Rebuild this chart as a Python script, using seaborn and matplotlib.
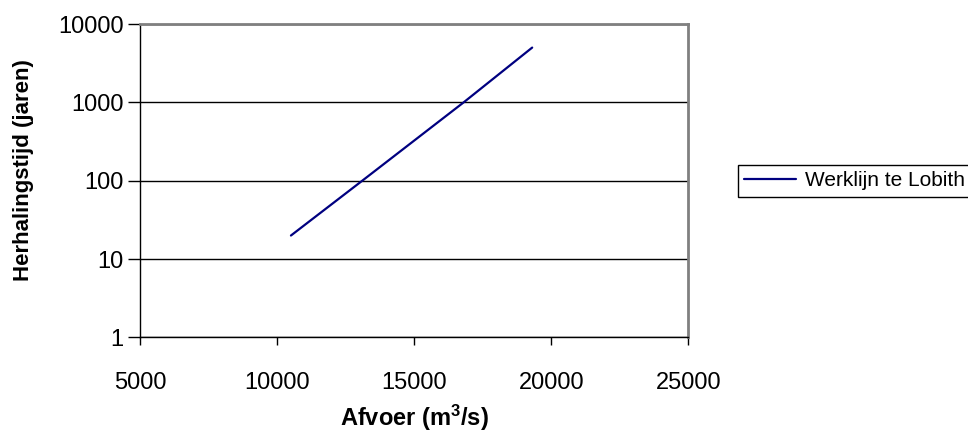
import matplotlib
matplotlib.use("Agg")
import matplotlib.pyplot as plt
from matplotlib.ticker import NullLocator
import pandas as pd
import seaborn as sns

# Werklijn (design discharge curve) for the Rhine at Lobith
afvoer = [10500, 13100, 16800, 19300]          # discharge, m3/s
herhalingstijd = [20, 100, 1000, 5000]         # return period, years
serie_naam = "Werklijn te Lobith"

x_ticks = [5000, 10000, 15000, 20000, 25000]
y_ticks = [1, 10, 100, 1000, 10000]
y_ticklabels = ["1", "10", "100", "1000", "10000"]

df = pd.DataFrame({"Afvoer": afvoer, "Herhalingstijd": herhalingstijd})

sns.set_style("white")
plt.rcParams["font.family"] = ["Liberation Sans", "DejaVu Sans"]
plt.rcParams["text.color"] = "black"
plt.rcParams["axes.labelcolor"] = "black"
plt.rcParams["mathtext.fontset"] = "custom"
plt.rcParams["mathtext.bf"] = "Liberation Sans:bold"
plt.rcParams["mathtext.rm"] = "Liberation Sans:bold"
plt.rcParams["mathtext.default"] = "bf"

fig = plt.figure(figsize=(9.68, 4.34), dpi=100)
fig.subplots_adjust(left=0.1448, right=0.7112, top=0.9447, bottom=0.2224)
ax = fig.add_subplot(111)

sns.lineplot(data=df, x="Afvoer", y="Herhalingstijd", ax=ax,
             color="#000080", linewidth=1.6, label=serie_naam, legend=False)

ax.set_yscale("log")
ax.set_xlim(5000, 25000)
ax.set_ylim(1, 10000)
ax.set_xticks(x_ticks)
ax.set_xticklabels([str(v) for v in x_ticks])
ax.set_yticks(y_ticks)
ax.set_yticklabels(y_ticklabels)
ax.yaxis.set_minor_locator(NullLocator())
ax.xaxis.set_minor_locator(NullLocator())

ax.yaxis.grid(True, color="black", linewidth=1)
ax.xaxis.grid(False)
ax.set_axisbelow(True)

for side in ("left", "bottom"):
    ax.spines[side].set_color("black")
    ax.spines[side].set_linewidth(1)
for side in ("top", "right"):
    ax.spines[side].set_color("#808080")
    ax.spines[side].set_linewidth(2)

ax.tick_params(axis="both", which="major", direction="out",
               width=1, color="black", labelsize=17, labelcolor="black",
               bottom=True, left=True)
ax.tick_params(axis="x", length=6, pad=19)
ax.tick_params(axis="y", length=9, pad=3)

ax.set_xlabel("Afvoer (m$^{3}$/s)", fontsize=17, fontweight="bold")
ax.set_ylabel("Herhalingstijd (jaren)", fontsize=16, fontweight="bold")
ax.xaxis.set_label_coords(0.5, -0.258)
ax.xaxis.label.set_va("center")
ax.yaxis.set_label_coords(-0.2129, 0.534)
ax.yaxis.label.set_va("center")
ax.yaxis.label.set_ha("center")

handles, labels = ax.get_legend_handles_labels()
leg = fig.legend(handles, labels, loc="upper left",
                 bbox_to_anchor=(738 / 968, 1 - 165 / 434),
                 frameon=True, fancybox=False, edgecolor="black",
                 framealpha=1, fontsize=15, handlelength=2.5,
                 handletextpad=0.4, borderpad=0.3, borderaxespad=0)
leg.get_frame().set_linewidth(1)

fig.savefig("out.png", dpi=100)
